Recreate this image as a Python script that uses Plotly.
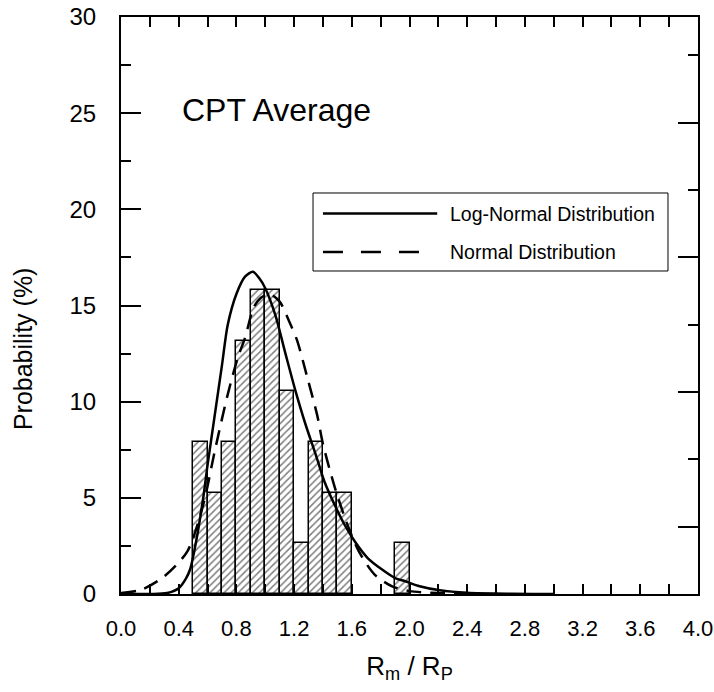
import plotly.graph_objects as go

# ---------------- data ----------------
bin_centers = [0.55, 0.65, 0.75, 0.85, 0.95, 1.05, 1.15, 1.25, 1.35, 1.45, 1.55, 1.95]
bin_prob = [7.89, 5.26, 7.89, 13.16, 15.79, 15.79, 10.53, 2.63, 7.89, 5.26, 5.26, 2.63]
bin_width = 0.1

lognorm_x = [0.0, 0.20, 0.32, 0.40, 0.45, 0.48, 0.52, 0.57, 0.60, 0.65, 0.70, 0.74, 0.80,
             0.86, 0.915, 0.96, 1.00, 1.07, 1.14, 1.21, 1.28, 1.35, 1.41, 1.48, 1.55,
             1.62, 1.71, 1.81, 1.90, 1.97, 2.07, 2.21, 2.40, 2.70, 3.00]
lognorm_y = [0.0, 0.0, 0.05, 0.3, 0.8, 1.3, 2.7, 5.0, 6.7, 9.3, 11.9, 14.0, 15.6,
             16.5, 16.75, 16.4, 15.9, 14.5, 12.5, 10.55, 8.8, 7.25, 5.85, 4.65, 3.6,
             2.74, 1.87, 1.27, 0.83, 0.66, 0.40, 0.19, 0.06, 0.01, 0.0]

norm_x = [0.0, 0.14, 0.30, 0.46, 0.57, 0.65, 0.74, 0.81, 0.86, 0.92, 0.97, 1.03,
          1.10, 1.17, 1.22, 1.29, 1.36, 1.40, 1.48, 1.56, 1.65, 1.76, 1.88, 2.0, 2.2, 2.4]
norm_y = [0.05, 0.22, 0.92, 2.22, 4.65, 7.43, 10.38, 12.29, 13.33, 14.9, 15.4, 15.6,
          15.2, 14.1, 13.2, 11.3, 9.3, 7.8, 5.6, 3.8, 2.2, 1.0, 0.4, 0.15, 0.05, 0.0]

x_ticks = [0.0, 0.4, 0.8, 1.2, 1.6, 2.0, 2.4, 2.8, 3.2, 3.6, 4.0]
x_ticklabels = ["0.0", "0.4", "0.8", "1.2", "1.6", "2.0", "2.4", "2.8", "3.2", "3.6", "4.0"]
y_ticks = [0, 5, 10, 15, 20, 25, 30]
y_ticklabels = ["0", "5", "10", "15", "20", "25", "30"]

legend_labels = ["Log-Normal Distribution", "Normal Distribution"]
panel_label = "CPT Average"
y_title = "Probability (%)"

FONT = "Liberation Sans, Arial, sans-serif"

fig = go.Figure()

fig.add_trace(go.Bar(
    x=bin_centers, y=bin_prob, width=bin_width,
    marker=dict(color="white",
                line=dict(color="black", width=1.5),
                pattern=dict(shape="/", fgcolor="black", bgcolor="white",
                             size=5, solidity=0.3)),
    showlegend=False,
))

fig.add_trace(go.Scatter(
    x=lognorm_x, y=lognorm_y, mode="lines",
    line=dict(color="black", width=2.5, shape="spline", smoothing=0.8),
    showlegend=False,
))
fig.add_trace(go.Scatter(
    x=norm_x, y=norm_y, mode="lines",
    line=dict(color="black", width=2.5, dash="15px,9px", shape="spline", smoothing=0.8),
    showlegend=False,
))

# dummy trace to create the top / right tick axes
fig.add_trace(go.Scatter(x=[None], y=[None], xaxis="x2", yaxis="y2", showlegend=False))

fig.update_layout(
    width=714, height=692,
    margin=dict(l=121, r=16, t=17, b=98),
    paper_bgcolor="white", plot_bgcolor="white",
    font=dict(family=FONT, color="black"),
    bargap=0,
    xaxis=dict(
        range=[0, 4], tickvals=x_ticks, ticktext=x_ticklabels,
        ticks="inside", ticklen=10, tickwidth=2, tickcolor="black",
        minor=dict(dtick=0.2, tick0=0, ticks="inside", ticklen=10, tickwidth=2, tickcolor="black"),
        showline=True, linecolor="black", linewidth=2,
        showgrid=False, zeroline=False, automargin=False,
        tickfont=dict(size=22),
        ticklabelstandoff=14,
        title=dict(text="R<sub>m</sub> / R<sub>P</sub>", font=dict(size=26), standoff=16),
    ),
    yaxis=dict(
        range=[0, 30], tickvals=y_ticks, ticktext=y_ticklabels,
        ticks="inside", ticklen=20, tickwidth=2, tickcolor="black",
        minor=dict(dtick=2.5, tick0=0, ticks="inside", ticklen=10, tickwidth=2, tickcolor="black"),
        showline=True, linecolor="black", linewidth=2,
        showgrid=False, zeroline=False, automargin=False,
        tickfont=dict(size=24),
        ticklabelstandoff=18,
    ),
    xaxis2=dict(
        overlaying="x", side="top", range=[0, 4], dtick=0.2, tick0=0,
        ticks="inside", ticklen=10, tickwidth=2, tickcolor="black",
        showticklabels=False, showline=True, linecolor="black", linewidth=2,
        showgrid=False, zeroline=False, automargin=False,
    ),
    yaxis2=dict(
        overlaying="y", side="right", range=[0, 30], dtick=7, tick0=3.5,
        ticks="inside", ticklen=20, tickwidth=2, tickcolor="black",
        minor=dict(dtick=3.5, tick0=0, ticks="inside", ticklen=10, tickwidth=2, tickcolor="black"),
        showticklabels=False, showline=True, linecolor="black", linewidth=2,
        showgrid=False, zeroline=False, automargin=False,
    ),
)

# y-axis title (placed as in the reference, a little below the axis centre)
fig.add_annotation(x=-0.17, y=0.426, xref="paper", yref="paper",
                   text=y_title, showarrow=False, textangle=-90,
                   xanchor="center", yanchor="middle",
                   font=dict(size=25, family=FONT))

# panel label
fig.add_annotation(x=0.102, y=0.839, xref="paper", yref="paper",
                   text=panel_label, showarrow=False, xanchor="left", yanchor="middle",
                   font=dict(size=32, family=FONT))

# legend box drawn manually (wide line samples as in the reference)
fig.add_shape(type="rect", xref="paper", yref="paper",
              x0=0.3328, x1=0.948, y0=0.5598, y1=0.695,
              line=dict(color="black", width=1), fillcolor="white", layer="above")
fig.add_shape(type="line", xref="paper", yref="paper",
              x0=0.350, x1=0.548, y0=0.6594, y1=0.6594,
              line=dict(color="black", width=2.5), layer="above")
fig.add_shape(type="line", xref="paper", yref="paper",
              x0=0.350, x1=0.518, y0=0.5927, y1=0.5927,
              line=dict(color="black", width=2.5, dash="20px,18px"), layer="above")
fig.add_annotation(x=0.567, y=0.6594, xref="paper", yref="paper",
                   text=legend_labels[0], showarrow=False, xanchor="left", yanchor="middle",
                   font=dict(size=19.5, family=FONT))
fig.add_annotation(x=0.567, y=0.5927, xref="paper", yref="paper",
                   text=legend_labels[1], showarrow=False, xanchor="left", yanchor="middle",
                   font=dict(size=19.5, family=FONT))

fig.write_html("out.html")
